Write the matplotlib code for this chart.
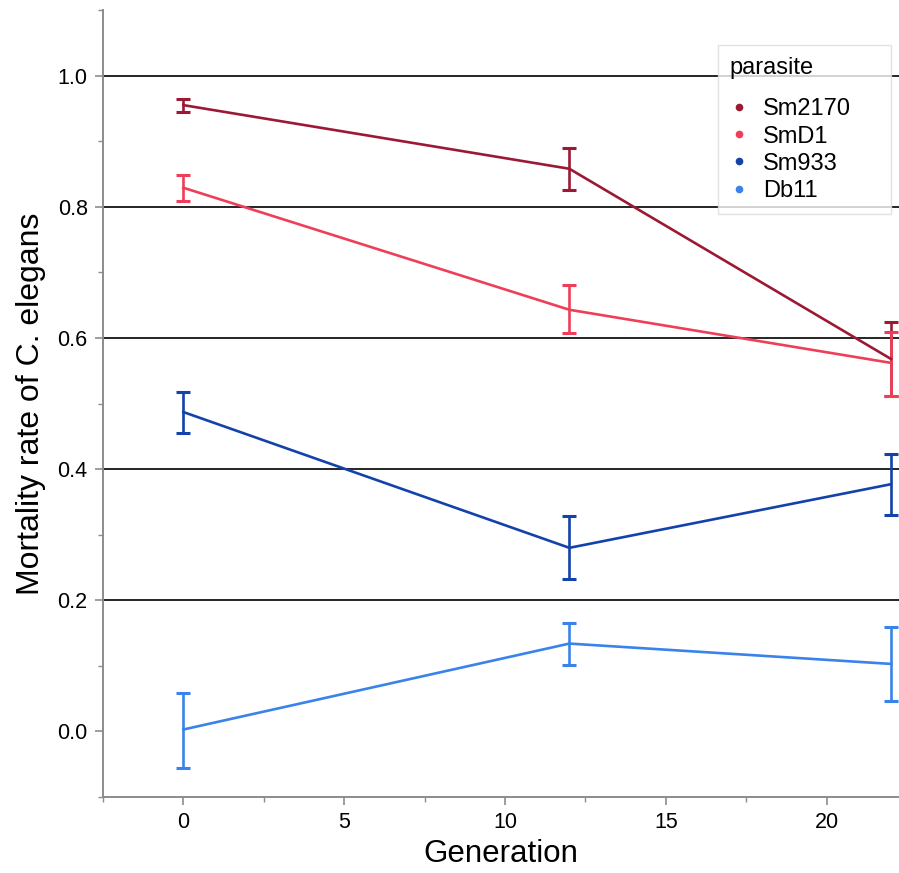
import matplotlib.pyplot as plt
from matplotlib.ticker import MultipleLocator

plt.rcParams['font.family'] = ['Liberation Sans', 'DejaVu Sans']

generation = [0, 12, 22]
parasites = ["Sm2170", "SmD1", "Sm933", "Db11"]
colors = ["#9c1934", "#ef3f58", "#1342aa", "#3a83ea"]

sm2170_mean = [0.955, 0.858, 0.568]
sm2170_low = [0.945, 0.825, 0.512]
sm2170_high = [0.965, 0.889, 0.625]

smd1_mean = [0.829, 0.643, 0.562]
smd1_low = [0.809, 0.607, 0.511]
smd1_high = [0.849, 0.680, 0.609]

sm933_mean = [0.487, 0.280, 0.377]
sm933_low = [0.455, 0.233, 0.330]
sm933_high = [0.518, 0.328, 0.423]

db11_mean = [0.003, 0.134, 0.103]
db11_low = [-0.055, 0.101, 0.046]
db11_high = [0.059, 0.166, 0.160]

series = [
    (sm2170_mean, sm2170_low, sm2170_high),
    (smd1_mean, smd1_low, smd1_high),
    (sm933_mean, sm933_low, sm933_high),
    (db11_mean, db11_low, db11_high),
]

fig = plt.figure(figsize=(8.99, 8.73), dpi=100)
ax = fig.add_axes([0.1146, 0.087, 0.8854, 0.9015])

for y in [0.2, 0.4, 0.6, 0.8, 1.0]:
    ax.axhline(y, color="black", lw=1.2, zorder=1)

for name, col, (m, lo, hi) in zip(parasites, colors, series):
    yerr = [[a - b for a, b in zip(m, lo)], [b - a for a, b in zip(m, hi)]]
    ax.errorbar(generation, m, yerr=yerr, color=col, lw=1.9, elinewidth=1.9,
                capsize=4.8, capthick=2.2, zorder=3, clip_on=True)
    ax.plot([], [], "o", color=col, ms=4.5, label=name)

ax.set_xlim(-2.5, 22.25)
ax.set_ylim(-0.1, 1.1)
ax.xaxis.set_major_locator(MultipleLocator(5))
ax.xaxis.set_minor_locator(MultipleLocator(2.5))
ax.yaxis.set_major_locator(MultipleLocator(0.2))
ax.yaxis.set_minor_locator(MultipleLocator(0.1))
ax.set_yticks([0.0, 0.2, 0.4, 0.6, 0.8, 1.0])
ax.set_yticklabels(["0.0", "0.2", "0.4", "0.6", "0.8", "1.0"])

for side in ["top", "right"]:
    ax.spines[side].set_visible(False)
for side in ["left", "bottom"]:
    ax.spines[side].set_color("#8c8c8c")
    ax.spines[side].set_linewidth(1.4)

ax.tick_params(which="major", length=6, width=1.2, color="#8c8c8c",
               labelsize=15.5, pad=5)
ax.tick_params(which="minor", length=3.5, width=1.0, color="#8c8c8c")

ax.set_xlabel("Generation", fontsize=22.5, labelpad=4)
ax.set_ylabel("Mortality rate of C. elegans", fontsize=23, labelpad=8)

# legend box sits in the upper right corner, stretched to a fixed width
leg = ax.legend(title="parasite", loc="upper left",
                bbox_to_anchor=(0.7726, 0.5, 0.2173, 0.4555), mode="expand",
                fontsize=17, title_fontsize=17, frameon=True, fancybox=False,
                handletextpad=0.6, handlelength=0.8, labelspacing=0.22,
                borderpad=0.5, borderaxespad=0)
leg.get_frame().set_edgecolor("#dddddd")
leg.get_frame().set_linewidth(1.0)
leg._legend_box.align = "left"
leg._legend_box.sep = 14
leg.set_zorder(5)

fig.savefig("out.png", dpi=100)
